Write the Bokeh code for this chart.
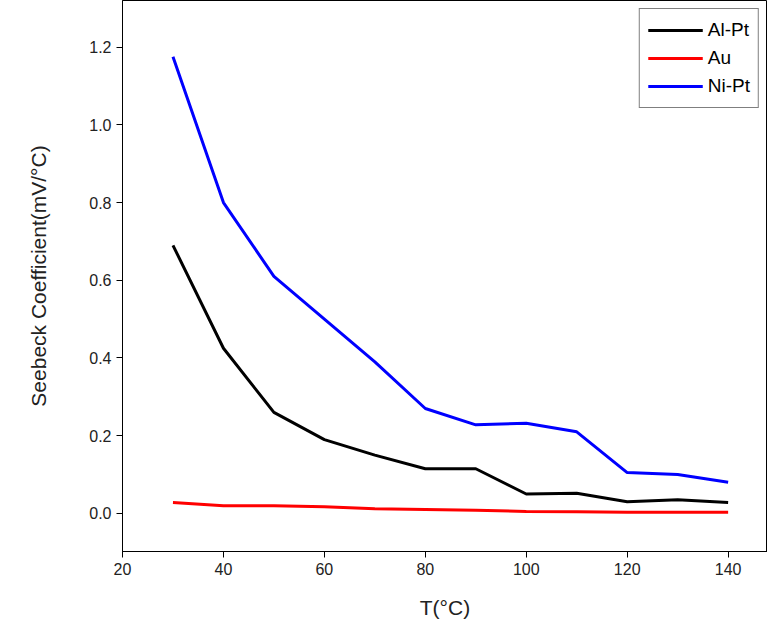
from bokeh.plotting import figure
from bokeh.models import Range1d, Legend, CustomJSTickFormatter
from bokeh.embed import file_html
from bokeh.resources import INLINE

temps = [30, 40, 50, 60, 70, 80, 90, 100, 110, 120, 130, 140]
al_pt = [0.69, 0.425, 0.26, 0.19, 0.15, 0.115, 0.115, 0.05, 0.052, 0.03, 0.035, 0.028]
au = [0.028, 0.02, 0.02, 0.017, 0.012, 0.01, 0.008, 0.005, 0.004, 0.003, 0.003, 0.003]
ni_pt = [1.175, 0.80, 0.61, 0.50, 0.39, 0.27, 0.228, 0.232, 0.21, 0.105, 0.10, 0.08]
x_ticks = [20, 40, 60, 80, 100, 120, 140]
y_ticks = [0.0, 0.2, 0.4, 0.6, 0.8, 1.0, 1.2]

p = figure(width=767, height=621, output_backend="svg", toolbar_location=None,
           x_range=Range1d(20, 147.8), y_range=Range1d(-0.098, 1.32),
           min_border_left=122, min_border_bottom=70, min_border_top=0, min_border_right=0)
p.grid.visible = False
p.outline_line_color = "black"

r1 = p.line(temps, al_pt, line_color="black", line_width=3)
r2 = p.line(temps, au, line_color="red", line_width=3)
r3 = p.line(temps, ni_pt, line_color="blue", line_width=3)

legend = Legend(items=[("Al-Pt", [r1]), ("Au", [r2]), ("Ni-Pt", [r3])],
                location="top_right", border_line_color="black",
                label_text_font="Liberation Sans", label_text_font_size="19px",
                label_text_color="black", glyph_width=55, label_height=26,
                spacing=2, padding=8, margin=8)
p.add_layout(legend)

p.xaxis.ticker = x_ticks
p.yaxis.ticker = y_ticks
p.yaxis.formatter = CustomJSTickFormatter(code="return tick.toFixed(1);")
for ax in (p.xaxis, p.yaxis):
    ax.major_label_text_font = "Liberation Sans"
    ax.major_label_text_font_size = "16px"
    ax.major_label_text_color = "#222222"
    ax.axis_label_text_font = "Liberation Sans"
    ax.axis_label_text_font_size = "21px"
    ax.axis_label_text_font_style = "normal"
    ax.axis_label_text_color = "#222222"
    ax.minor_tick_line_color = None
    ax.major_tick_out = 6
    ax.major_tick_in = 0
p.xaxis.axis_label = "T(\u00b0C)"
p.yaxis.axis_label = "Seebeck Coefficient(mV/\u00b0C)"
p.yaxis.axis_label_standoff = 36
p.xaxis.axis_label_standoff = 18

open("out.html", "w").write(file_html(p, INLINE))
